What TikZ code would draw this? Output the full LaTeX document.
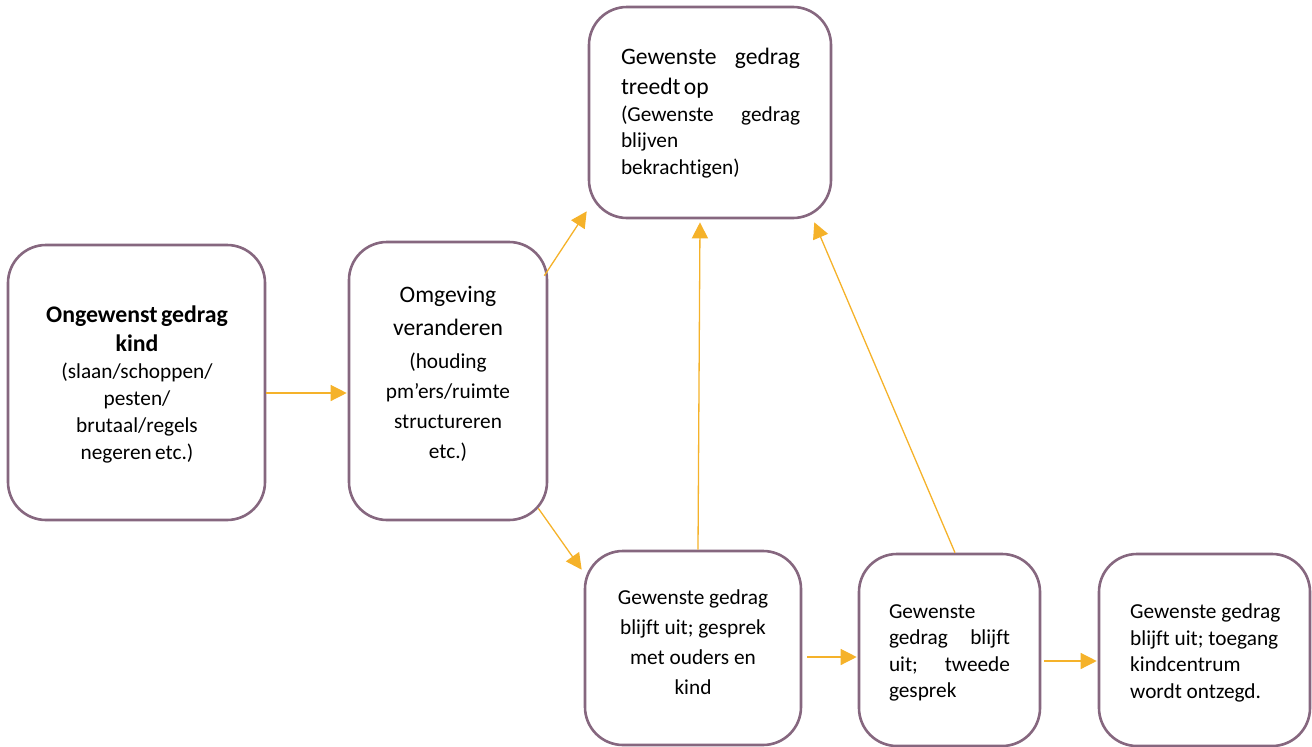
\documentclass[tikz,border=0pt]{standalone}
\usepackage{fontspec}
\setmainfont{Carlito}[Ligatures=NoCommon]
\usetikzlibrary{arrows.meta,calc}
\definecolor{boxc}{HTML}{86677F}
\definecolor{arrc}{HTML}{F5B22A}
\newcommand{\smallf}{\fontsize{21.3}{26.5}\selectfont}
\newcommand{\largef}{\fontsize{23.6}{30}\selectfont}
\begin{document}
\begin{tikzpicture}[x=1pt,y=-1pt,
  box/.style 2 args={draw=boxc, line width=2.6pt, rounded corners=38pt,
    minimum width=#1, minimum height=#2, inner sep=0pt},
  txt/.style={inner sep=0pt, text=black},
  arr/.style={draw=arrc, line width=1.3pt, -{Triangle[length=16pt,width=16pt]}}]
\useasboundingbox (0,0) rectangle (1312,747);
% boxes
\node[box={257pt}{275pt}] (A) at (136.5,382.5) {};
\node[box={198pt}{278pt}] (B) at (448,381) {};
\node[box={242pt}{211pt}] (C) at (710,112.5) {};
\node[box={216pt}{194pt}] (D) at (693,648) {};
\node[box={181pt}{192pt}] (E) at (949.5,650) {};
\node[box={211pt}{192pt}] (F) at (1204.5,650) {};
% texts
\node[txt, text width=250pt, align=center] (At) at (137,384)
  {{\fontsize{23.8}{29}\selectfont\bfseries Ongewenst gedrag\\kind\par}{\fontsize{21.3}{27}\selectfont (slaan/schoppen/\\pesten/\\brutaal/regels\\negeren etc.)\par}};
\node[txt, text width=190pt, align=center] (Bt) at (448,374)
  {{\fontsize{23.6}{33}\selectfont Omgeving\\veranderen\par}\vspace{3pt}{\fontsize{21.3}{30}\selectfont (houding\\pm’ers/ruimte\\structureren\\etc.)\par}};
\node[txt, text width=179pt, align=left] (Ct) at (710.5,113)
  {{\largef\makebox[179pt][l]{Gewenste\hfill gedrag}\\treedt op\par}{\smallf\makebox[179pt][l]{(Gewenste\hfill gedrag}\\blijven\\bekrachtigen)\par}};
\node[txt, align=center, font=\fontsize{21.3}{30}\selectfont] (Dt) at (693,642)
  {Gewenste gedrag\\blijft uit; gesprek\\met ouders en\\kind};
\node[txt, text width=121pt, align=left, font=\smallf] (Et) at (949.5,653)
  {Gewenste\\\makebox[121pt][l]{gedrag\hfill blijft}\\\makebox[121pt][l]{uit;\hfill tweede}\\gesprek};
\node[txt, align=left, anchor=west, font=\smallf] (Ft) at (1130,653)
  {Gewenste gedrag\\blijft uit; toegang\\kindcentrum\\wordt ontzegd.};
% arrows
\draw[arr] ($(A.east)+(0,10.5)$) -- ($(B.west)+(-1,12)$);
\draw[arr] ($(B.north east)+(-4,35)$) -- ($(C.south west)+(-1,-8)$);
\draw[arr] ($(B.south east)+(-10,-13)$) -- ($(D.north west)+(-2,20)$);
\draw[arr] ($(D.north)+(5,0)$) -- ($(C.south)+(-10,3)$);
\draw[arr] ($(E.north)+(5.5,0)$) -- ($(C.south east)+(-18,3)$);
\draw[arr] ($(D.east)+(5,9)$) -- ($(E.west)+(-1,7)$);
\draw[arr] ($(E.east)+(3,11)$) -- ($(F.west)+(-1,11)$);
\end{tikzpicture}
\end{document}
